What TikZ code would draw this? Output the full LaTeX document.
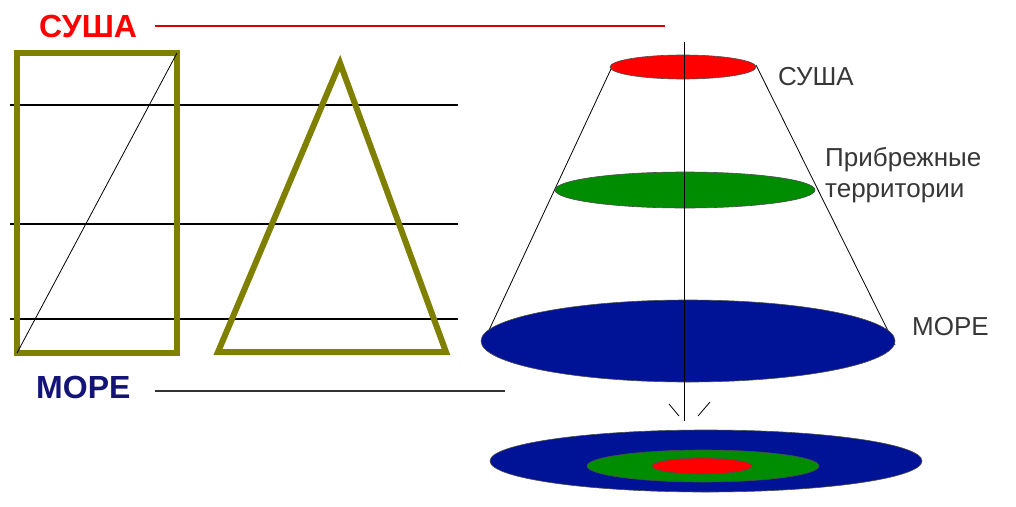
\documentclass[tikz,border=0pt]{standalone}
\usepackage{fontspec}
\setmainfont{Liberation Sans}
\definecolor{olivec}{RGB}{128,128,0}
\definecolor{seablue}{RGB}{0,18,150}
\definecolor{landred}{RGB}{255,0,0}
\definecolor{coastgreen}{RGB}{0,140,0}
\definecolor{labelnavy}{RGB}{20,20,120}
\definecolor{labelgray}{RGB}{55,55,55}
\begin{document}
\begin{tikzpicture}[x=1pt,y=-1pt,
  frame/.style={draw=olivec,line width=6pt,line join=miter},
  guide/.style={draw=black,line width=1.3pt},
  thinline/.style={draw=black,line width=0.8pt},
  disc/.style={draw=black!70,line width=0.6pt},
  lbl/.style={font=\fontsize{26}{28}\selectfont,text=labelgray,inner sep=0pt,anchor=west},
  title/.style={font=\bfseries\fontsize{32}{34}\selectfont,inner sep=0pt,anchor=west}]
\useasboundingbox (0,0) rectangle (1016,506);
\fill[white] (0,0) rectangle (1016,506);
% left titles
\node[title,text=landred] (land) at (39,26) {СУША};
\coordinate (landA) at (155,26);
\coordinate (landB) at (665,26);
\draw[landred!85!black,line width=1.1pt] (landA) -- (landB);
\node[title,text=labelnavy] (sea) at (36,387) {МОРЕ};
\coordinate (seaA) at (155,391);
\coordinate (seaB) at (505,391);
\draw[black!80,line width=1.1pt] (seaA) -- (seaB);
% guide lines
\foreach \yy in {105,224,319} {
  \draw[guide] (10,\yy) -- (458,\yy);
}
% rectangle and diagonal
\coordinate (rBL) at (17,353);
\coordinate (rTR) at (177,53);
\draw[frame] (rBL) rectangle (rTR);
\draw[thinline] (rBL) -- (rTR);
% triangle
\coordinate (tA) at (340,63);
\coordinate (tR) at (446,352);
\coordinate (tL) at (218,352);
\draw[frame] (tA) -- (tR) -- (tL) -- cycle;
% cone
\coordinate (cTop) at (683,67);
\coordinate (cMid) at (685,190);
\coordinate (cBot) at (688,341);
\coordinate (lTop) at (611,69);
\coordinate (lBot) at (483,343);
\coordinate (rTop) at (756,65);
\coordinate (rBot) at (895,345);
\draw[thinline] (lTop) -- (lBot);
\draw[thinline] (rTop) -- (rBot);
\draw[disc,fill=landred] (cTop) ellipse [x radius=73,y radius=12];
\draw[disc,fill=coastgreen] (cMid) ellipse [x radius=130,y radius=18];
\draw[disc,fill=seablue] (cBot) ellipse [x radius=207,y radius=41];
% axis
\coordinate (axT) at (684,42);
\coordinate (axB) at (684,421);
\draw[thinline] (axT) -- (axB);
\coordinate (hl1) at (669,404);
\coordinate (hl2) at (679,416);
\coordinate (hr1) at (710,402);
\coordinate (hr2) at (698,416);
\draw[thinline] (hl1) -- (hl2);
\draw[thinline] (hr1) -- (hr2);
% bottom map
\coordinate (mC) at (706,461);
\draw[disc,fill=seablue] (mC) ellipse [x radius=216,y radius=31];
\draw[disc,fill=coastgreen] (703,466) ellipse [x radius=116,y radius=16];
\draw[disc,fill=landred] (702,466) ellipse [x radius=50,y radius=8];
% labels
\node[lbl] (l1) at (778,77) {СУША};
\node[lbl] (l2) at (825,160) {Прибрежные};
\node[lbl] (l3) at (825,193) {территории};
\node[lbl] (l4) at (912,327) {МОРЕ};
\end{tikzpicture}
\end{document}
